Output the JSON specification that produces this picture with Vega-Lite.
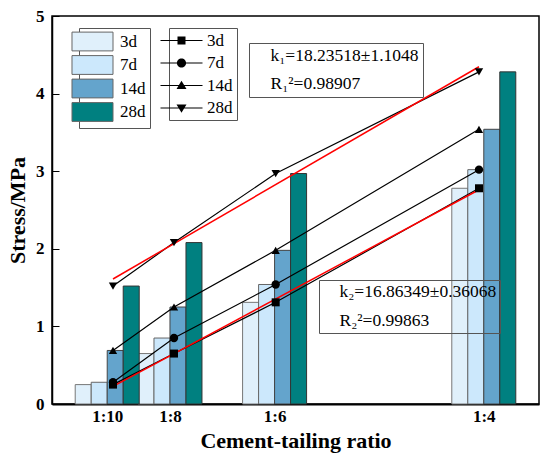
{
  "$schema": "https://vega.github.io/schema/vega-lite/v6.json",
  "width": 487,
  "height": 388,
  "autosize": "none",
  "padding": {"left": 52, "top": 16, "right": 11, "bottom": 51},
  "background": "white",
  "config": {
    "font": "Liberation Serif",
    "view": {"stroke": "black", "strokeWidth": 1.5},
    "axis": {
      "grid": false,
      "labelFont": "Liberation Serif",
      "titleFont": "Liberation Serif",
      "labelColor": "black",
      "titleColor": "black",
      "labelFontWeight": "bold",
      "titleFontWeight": "bold",
      "labelFontSize": 17,
      "titleFontSize": 22,
      "domainColor": "black",
      "tickColor": "black"
    },
    "legend": {
      "labelFont": "Liberation Serif",
      "labelFontSize": 17,
      "labelColor": "black",
      "labelLimit": 400,
      "strokeColor": "#555",
      "fillColor": "white",
      "padding": 4
    }
  },
  "datasets": {
    "strength": [
      {"ratio": 0.1, "age": "3d", "stress": 0.25},
      {"ratio": 0.1, "age": "7d", "stress": 0.28},
      {"ratio": 0.1, "age": "14d", "stress": 0.69},
      {"ratio": 0.1, "age": "28d", "stress": 1.52},
      {"ratio": 0.125, "age": "3d", "stress": 0.65},
      {"ratio": 0.125, "age": "7d", "stress": 0.85},
      {"ratio": 0.125, "age": "14d", "stress": 1.25},
      {"ratio": 0.125, "age": "28d", "stress": 2.08},
      {"ratio": 0.16667, "age": "3d", "stress": 1.31},
      {"ratio": 0.16667, "age": "7d", "stress": 1.54},
      {"ratio": 0.16667, "age": "14d", "stress": 1.98},
      {"ratio": 0.16667, "age": "28d", "stress": 2.97},
      {"ratio": 0.25, "age": "3d", "stress": 2.78},
      {"ratio": 0.25, "age": "7d", "stress": 3.02},
      {"ratio": 0.25, "age": "14d", "stress": 3.54},
      {"ratio": 0.25, "age": "28d", "stress": 4.28}
    ],
    "fit28d": [
      {"fit": "k₁=18.23518±1.1048"},
      {"fit": "R₁²=0.98907"}
    ],
    "fit3d": [
      {"fit": "k₂=16.86349±0.36068"},
      {"fit": "R₂²=0.99863"}
    ]
  },
  "data": {"name": "strength"},
  "encoding": {
    "y": {
      "field": "stress",
      "type": "quantitative",
      "title": "Stress/MPa",
      "scale": {"domain": [0, 5], "nice": false, "zero": true},
      "axis": {
        "values": [0, 1, 2, 3, 4, 5],
        "tickSize": -7,
        "domainWidth": 1.5,
        "labelPadding": 15,
        "titlePadding": 6
      }
    }
  },
  "layer": [
    {
      "encoding": {
        "x": {
          "field": "ratio",
          "type": "quantitative",
          "title": "Cement-tailing ratio",
          "scale": {"domain": [0.08, 0.27], "nice": false, "zero": false},
          "axis": {
            "values": [0.1, 0.125, 0.16667, 0.25],
            "labelExpr": "'1:' + round(1 / datum.value)",
            "tickSize": 0,
            "domainWidth": 2,
            "labelPadding": 4,
            "titlePadding": 6
          }
        }
      },
      "layer": [
        {
          "transform": [{"filter": "datum.age === '3d'"}],
          "mark": {"type": "bar", "width": 16, "xOffset": -24, "stroke": "#777", "strokeWidth": 1},
          "encoding": {
            "fill": {
              "field": "age",
              "type": "nominal",
              "scale": {
                "domain": ["3d", "7d", "14d", "28d"],
                "range": ["#E0F0FB", "#CCE8FC", "#64A4CC", "#008080"]
              },
              "legend": {
                "orient": "none",
                "legendX": 27,
                "legendY": 12,
                "title": null,
                "symbolType": "M-2.4,-1.1H2.4V1.1H-2.4Z",
                "symbolSize": 292,
                "symbolStrokeColor": "#444",
                "symbolStrokeWidth": 1,
                "labelOffset": 18,
                "rowPadding": 0.5
              }
            }
          }
        },
        {
          "transform": [{"filter": "datum.age === '7d'"}],
          "mark": {"type": "bar", "width": 16, "xOffset": -8, "stroke": "#666", "strokeWidth": 1},
          "encoding": {"fill": {"field": "age", "type": "nominal"}}
        },
        {
          "transform": [{"filter": "datum.age === '14d'"}],
          "mark": {"type": "bar", "width": 16, "xOffset": 8, "stroke": "#444", "strokeWidth": 1},
          "encoding": {"fill": {"field": "age", "type": "nominal"}}
        },
        {
          "transform": [{"filter": "datum.age === '28d'"}],
          "mark": {"type": "bar", "width": 16, "xOffset": 24, "stroke": "#333", "strokeWidth": 1},
          "encoding": {"fill": {"field": "age", "type": "nominal"}}
        }
      ]
    },
    {
      "encoding": {
        "x": {
          "field": "ratio",
          "type": "quantitative",
          "scale": {"domain": [0.075, 0.2746], "nice": false, "zero": false},
          "axis": null
        }
      },
      "layer": [
        {
          "mark": {"type": "line", "color": "black", "strokeWidth": 1.2},
          "encoding": {"detail": {"field": "age", "type": "nominal"}}
        },
        {
          "transform": [
            {"filter": "datum.age === '28d'"},
            {"regression": "stress", "on": "ratio"}
          ],
          "mark": {"type": "line", "color": "#FF0000", "strokeWidth": 1.5}
        },
        {
          "transform": [
            {"filter": "datum.age === '3d'"},
            {"regression": "stress", "on": "ratio"}
          ],
          "mark": {"type": "line", "color": "#FF0000", "strokeWidth": 1.5}
        },
        {
          "transform": [{"filter": "datum.age === '3d'"}],
          "mark": {"type": "point", "shape": "square", "filled": true, "color": "black", "opacity": 1, "size": 64}
        },
        {
          "transform": [{"filter": "datum.age === '7d'"}],
          "mark": {"type": "point", "shape": "circle", "filled": true, "color": "black", "opacity": 1, "size": 70}
        },
        {
          "transform": [{"filter": "datum.age === '14d'"}],
          "mark": {"type": "point", "shape": "triangle-up", "filled": true, "color": "black", "opacity": 1, "size": 70}
        },
        {
          "transform": [{"filter": "datum.age === '28d'"}],
          "mark": {"type": "point", "shape": "triangle-down", "filled": true, "color": "black", "opacity": 1, "size": 70}
        },
        {
          "mark": {"type": "point", "filled": true, "fill": "black", "opacity": 0, "size": 64},
          "encoding": {
            "shape": {
              "field": "age",
              "type": "nominal",
              "sort": ["3d", "7d", "14d", "28d"],
              "scale": {
                "range": [
                  "M-5.25,-0.14H5.25V0.14H-5.25ZM-1,-1H1V1H-1Z",
                  "M-5.25,-0.14H5.25V0.14H-5.25ZM-1.15,0A1.15,1.15 0 1,1 1.15,0A1.15,1.15 0 1,1 -1.15,0Z",
                  "M-5.25,-0.14H5.25V0.14H-5.25ZM0,-1.2L1.25,0.9L-1.25,0.9Z",
                  "M-5.25,-0.14H5.25V0.14H-5.25ZM0,1.2L-1.25,-0.9L1.25,-0.9Z"
                ]
              },
              "legend": {
                "orient": "none",
                "legendX": 117,
                "legendY": 12,
                "title": null,
                "symbolSize": 64,
                "symbolOpacity": 1,
                "symbolFillColor": "black",
                "symbolStrokeColor": "black",
                "symbolStrokeWidth": 0,
                "labelOffset": 17,
                "rowPadding": 4.5
              }
            }
          }
        }
      ]
    },
    {
      "data": {"name": "fit28d"},
      "mark": {"type": "point", "opacity": 0},
      "encoding": {
        "strokeDash": {
          "field": "fit",
          "type": "nominal",
          "scale": {"domain": ["k₁=18.23518±1.1048", "R₁²=0.98907"]},
          "legend": {
            "orient": "none",
            "legendX": 197,
            "legendY": 27,
            "title": null,
            "symbolSize": 0,
            "symbolOpacity": 0,
            "symbolStrokeWidth": 0,
            "labelOffset": 0,
            "labelFontSize": 17.5,
            "rowPadding": 9
          }
        }
      }
    },
    {
      "data": {"name": "fit3d"},
      "mark": {"type": "point", "opacity": 0},
      "encoding": {
        "stroke": {
          "field": "fit",
          "type": "nominal",
          "scale": {"domain": ["k₂=16.86349±0.36068", "R₂²=0.99863"], "range": ["black", "black"]},
          "legend": {
            "orient": "none",
            "legendX": 267,
            "legendY": 264,
            "title": null,
            "symbolSize": 0,
            "symbolOpacity": 0,
            "symbolStrokeWidth": 0,
            "labelOffset": 0,
            "labelFontSize": 17.5,
            "rowPadding": 10,
            "padding": 3,
            "fillColor": "transparent"
          }
        }
      }
    }
  ],
  "resolve": {"scale": {"x": "independent"}}
}
